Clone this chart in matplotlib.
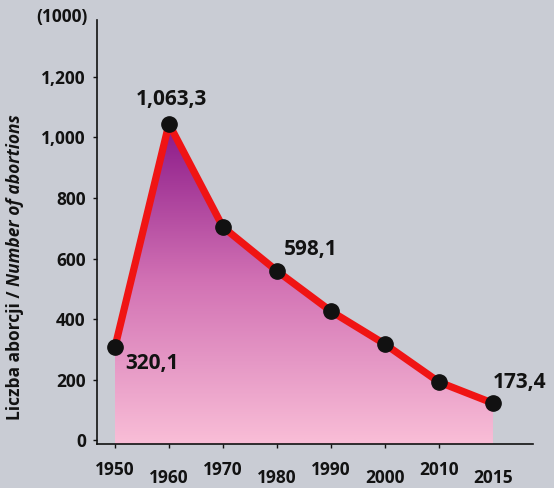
import numpy as np
import matplotlib
matplotlib.use('Agg')
import matplotlib.pyplot as plt
from matplotlib.colors import LinearSegmentedColormap
from matplotlib.transforms import ScaledTranslation

plt.rcParams['font.family'] = ['Open Sans', 'DejaVu Sans']
plt.rcParams['font.weight'] = 'bold'

# data (thousands)
years = ['1950', '1960', '1970', '1980', '1990', '2000', '2010', '2015']
abortions = [307, 1045, 704, 559, 426, 317, 192, 122]
label_idx = [0, 1, 3, 7]
label_text = ['320,1', '1,063,3', '598,1', '173,4']
yticks = [0, 200, 400, 600, 800, 1000, 1200]
ytick_labels = ['0', '200', '400', '600', '800', '1,000', '1,200']

bg = '#c9ccd4'
txt = '#121212'
cmap = LinearSegmentedColormap.from_list('fill', ['#f8bcd6', '#d272b4', '#8a1888'])

fig = plt.figure(figsize=(5.54, 4.88), dpi=100, facecolor=bg)
ax = fig.add_axes([0.175, 0.090, 0.787, 0.869])
ax.set_facecolor(bg)

x = np.arange(len(years))
ymin, ymax = -13, 1388

# gradient fill under the line
fill = ax.fill_between(x, ymin, abortions, color='none', lw=0)
grad = np.linspace(0, 1, 256).reshape(-1, 1)
im = ax.imshow(grad, cmap=cmap, origin='lower', aspect='auto',
               extent=[x[0], x[-1], 0, max(abortions)], zorder=1)
im.set_clip_path(fill.get_paths()[0], transform=ax.transData)
ax.fill_between(x, ymin, 0, color='#f8bcd6', lw=0, zorder=1)

ax.plot(x, abortions, color='#f01414', lw=5.2, zorder=3, solid_joinstyle='round')
ax.plot(x, abortions, 'o', color='#111111', ms=11, zorder=4)

offsets = [(10, -16, 'left'), (2, 24, 'center'), (7, 21, 'left'), (0, 21, 'left')]
for i, t, (dx, dy, ha) in zip(label_idx, label_text, offsets):
    ax.annotate(t, (x[i], abortions[i]), xytext=(dx * 0.72, dy * 0.72),
                textcoords='offset points', ha=ha, va='center',
                fontsize=15, color=txt, zorder=5)

ax.set_xlim(-0.333, 7.74)
ax.set_ylim(ymin, ymax)

for s in ['top', 'right']:
    ax.spines[s].set_visible(False)
for s in ['left', 'bottom']:
    ax.spines[s].set_linewidth(1.2)
    ax.spines[s].set_color('#111111')

ax.set_yticks(yticks)
ax.set_yticklabels(ytick_labels)
ax.set_xticks(x)
ax.set_xticklabels(years)
ax.tick_params(axis='y', length=3, width=1, pad=5, labelsize=12.5, colors=txt)
ax.tick_params(axis='x', length=3, width=1, pad=9, labelsize=12.5, colors=txt)
ax.xaxis.get_major_ticks()[-1].tick1line.set_visible(False)

# staggered year labels
shift = ScaledTranslation(0, -8 / 100, fig.dpi_scale_trans)
for i, lab in enumerate(ax.get_xticklabels()):
    if i % 2 == 1:
        lab.set_transform(lab.get_transform() + shift)

fig.text(62 / 554, 1 - 17 / 488, '(1000)', ha='center', va='center',
         fontsize=12.5, color=txt)

# y label: plain + italic part
W, H = 554, 488
t1 = fig.text(15 / W, 1 - 420 / H, 'Liczba aborcji / ', rotation=90,
              rotation_mode='anchor', ha='left', va='center', fontsize=12.5, color=txt)
fig.canvas.draw()
bb = t1.get_window_extent()
fig.text(15 / W, bb.y1 / H, 'Number of abortions', rotation=90,
         rotation_mode='anchor', ha='left', va='center', fontsize=12.5,
         style='italic', color=txt)

fig.savefig('out.png', dpi=100, facecolor=bg)
